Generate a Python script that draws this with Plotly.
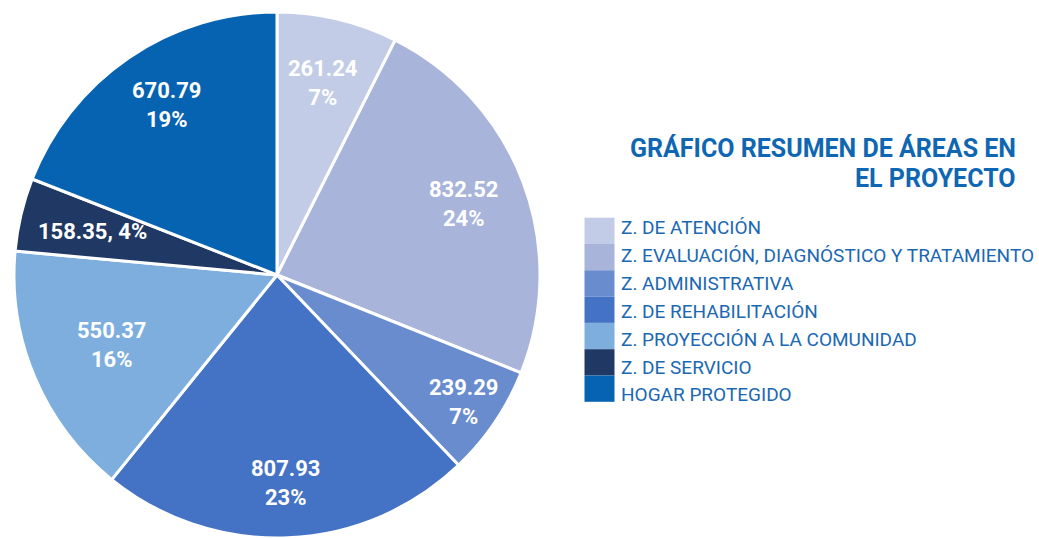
import math
import plotly.graph_objects as go

labels = ["Z. DE ATENCIÓN", "Z. EVALUACIÓN, DIAGNÓSTICO Y TRATAMIENTO", "Z. ADMINISTRATIVA",
          "Z. DE REHABILITACIÓN", "Z. PROYECCIÓN A LA COMUNIDAD", "Z. DE SERVICIO", "HOGAR PROTEGIDO"]
values = [261.24, 832.52, 239.29, 807.93, 550.37, 158.35, 670.79]
colors = ["#c2cce6", "#a8b4da", "#698ccf", "#4472c4", "#7daedd", "#203864", "#0563b1"]
one_line = ["Z. DE SERVICIO"]

title_lines = ["GRÁFICO RESUMEN DE ÁREAS EN", "EL PROYECTO"]

# label placement style (radial fraction, fraction along slice)
label_r = [0.75, 0.76, 0.86, 0.79, 0.68, 0.72, 0.77]
label_f = [0.5, 0.5, 0.5, 0.5, 0.5, 0.5, 0.52]

FONT = "Roboto, sans-serif"
W, H = 1039, 538
CX, CY, R = 277, 275, 263  # pie geometry in pixels (from domain below)

total = sum(values)

fig = go.Figure(go.Pie(
    labels=labels, values=values, textinfo="none",
    sort=False, direction="clockwise", rotation=0,
    marker=dict(colors=colors, line=dict(color="white", width=3)),
    domain=dict(x=[(CX - R) / W, (CX + R) / W], y=[0, 2 * R / H]),
    showlegend=False, hoverinfo="label+value+percent",
))

shapes = []
annotations = []

# slice labels positioned from the slice angles
cum = 0.0
for i, (lab, v) in enumerate(zip(labels, values)):
    pct = round(v / total * 100)
    sep = ", " if lab in one_line else "<br>"
    ang = 2 * math.pi * (cum + label_f[i] * v) / total
    cum += v
    px = CX + label_r[i] * R * math.sin(ang)
    py = CY - label_r[i] * R * math.cos(ang)
    annotations.append(dict(
        x=px / W, y=1 - py / H, xref="paper", yref="paper",
        xanchor="center", yanchor="middle", showarrow=False,
        text=f"<b>{v:.2f}{sep}{pct}%</b>",
        font=dict(family=FONT, size=22, color="white")))

# title
for i, t in enumerate(title_lines):
    annotations.append(dict(
        x=1018 / W, y=1 - (148 + i * 30) / H, xref="paper", yref="paper",
        xanchor="right", yanchor="middle", showarrow=False,
        text=f"<b>{t}</b>", font=dict(family=FONT, size=25, color="#0f67b3")))

# legend
sw_top, sw_h = 217.7, 26.3
txt_top, txt_h = 227.5, 27.9
for i, (lab, c) in enumerate(zip(labels, colors)):
    y0 = sw_top + i * sw_h
    shapes.append(dict(type="rect", xref="paper", yref="paper",
                       x0=584.5 / W, x1=614.5 / W, y0=1 - (y0 + sw_h) / H, y1=1 - y0 / H,
                       fillcolor=c, line=dict(width=0)))
    annotations.append(dict(
        x=619 / W, y=1 - (txt_top + i * txt_h) / H, xref="paper", yref="paper",
        xanchor="left", yanchor="middle", showarrow=False,
        text=lab, font=dict(family=FONT, size=19, color="#1b68b2")))

fig.update_layout(
    width=W, height=H, margin=dict(l=0, r=0, t=0, b=0),
    paper_bgcolor="white", plot_bgcolor="white",
    shapes=shapes, annotations=annotations,
)
fig.write_html("out.html", config={"displayModeBar": False},
               post_script="document.body.style.margin='0';")
